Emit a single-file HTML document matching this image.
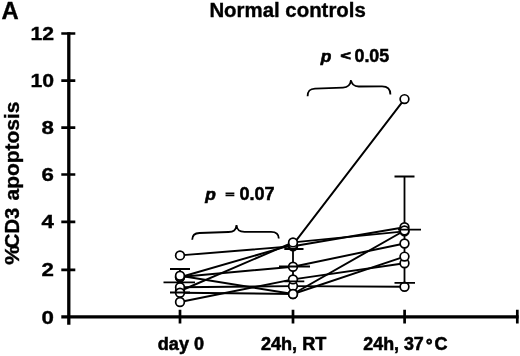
<!DOCTYPE html>
<html><head><meta charset="utf-8"><title>Normal controls</title>
<style>html,body{margin:0;padding:0;background:#fff}svg{display:block}</style>
</head><body>
<svg width="520" height="356" viewBox="0 0 520 356">
<rect width="520" height="356" fill="#fff"/>
<g font-family="'Liberation Sans', Arial, Helvetica, sans-serif" font-weight="bold" fill="#000" stroke="#000" stroke-width="0.35">
<text x="1.4" y="19.0" font-size="24.5" textLength="17.2" lengthAdjust="spacingAndGlyphs">A</text>
<text x="209.4" y="17" font-size="19.5" textLength="156.4" lengthAdjust="spacingAndGlyphs">Normal controls</text>
<g font-size="18" text-anchor="end">
<text x="54.0" y="39.8" textLength="23.6" lengthAdjust="spacingAndGlyphs">12</text>
<text x="54.0" y="86.6" textLength="23.6" lengthAdjust="spacingAndGlyphs">10</text>
<text x="54.0" y="133.8" textLength="12.4" lengthAdjust="spacingAndGlyphs">8</text>
<text x="54.0" y="181.2" textLength="12.4" lengthAdjust="spacingAndGlyphs">6</text>
<text x="54.0" y="228.4" textLength="12.4" lengthAdjust="spacingAndGlyphs">4</text>
<text x="54.0" y="276.2" textLength="12.4" lengthAdjust="spacingAndGlyphs">2</text>
<text x="54.0" y="324.0" textLength="12.4" lengthAdjust="spacingAndGlyphs">0</text>
</g>
<text transform="translate(18.6,0) rotate(-90)" font-size="20"><tspan x="-264.7" textLength="19.6" lengthAdjust="spacingAndGlyphs">%</tspan><tspan x="-248.2" textLength="40.6" lengthAdjust="spacingAndGlyphs">CD3</tspan> <tspan x="-200.4" textLength="98.7" lengthAdjust="spacingAndGlyphs">apoptosis</tspan></text>
<g font-size="17.5" stroke-width="0.55">
<text x="157.8" y="349.9" font-size="18" textLength="46.2" lengthAdjust="spacingAndGlyphs">day 0</text>
<text x="260.9" y="349.7" textLength="65.4" lengthAdjust="spacingAndGlyphs">24h, RT</text>
<text y="349.6"><tspan x="363.3" textLength="60.5" lengthAdjust="spacingAndGlyphs">24h, 37</tspan><tspan x="426.0" y="350.8" font-size="16" stroke-width="0.8">°</tspan><tspan x="434.6" y="349.6" textLength="13" lengthAdjust="spacingAndGlyphs">C</tspan></text>
</g>
<g font-size="17.5">
<text x="205.2" y="199.8" font-style="italic" font-size="17" textLength="10.6" lengthAdjust="spacingAndGlyphs" stroke-width="0.6">p</text>
<text transform="translate(225.7,196.9) scale(1,0.5)" font-size="15" textLength="8.4" lengthAdjust="spacingAndGlyphs" stroke-width="1.7">=</text>
<text x="239.4" y="200" textLength="35.1" lengthAdjust="spacingAndGlyphs" stroke-width="0.5">0.07</text>
<text x="320.8" y="62.3" font-style="italic" font-size="17" textLength="10.6" lengthAdjust="spacingAndGlyphs" stroke-width="0.6">p</text>
<text transform="translate(340.4,59.8) scale(1,0.8)" font-size="15" textLength="10.4" lengthAdjust="spacingAndGlyphs" stroke-width="0.9">&lt;</text>
<text x="354.5" y="62.3" textLength="34.7" lengthAdjust="spacingAndGlyphs" stroke-width="0.5">0.05</text>
</g>
</g>
<g stroke="#000" fill="none" stroke-linecap="butt">
<!-- axes -->
<path d="M68.8,32.2 V324.8" stroke-width="3.3"/>
<path d="M61.3,316.8 H518.6" stroke-width="3.3"/>
<g stroke-width="2.7">
<path d="M61.3,33.5 H75.3 M61.3,80.6 H75.3 M61.3,127.6 H75.3 M61.3,174.5 H75.3 M61.3,221.8 H75.3 M61.3,269.9 H75.3"/>
<path d="M180,309.8 V323.6 M293,309.8 V323.6 M404.6,309.8 V323.6 M517.3,309.8 V323.6"/>
</g>
<!-- braces -->
<g stroke-width="1.8">
<path d="M192.2,239.8 C192.2,235 194.5,233.2 199.5,233 L228.5,232 C233.5,231.8 236,230.5 236.5,225.2 C237,230.5 239.5,231.8 244.5,231.8 L271,231.8 C276,231.8 278.8,233.5 278.8,238.6"/>
<path d="M307.6,96.3 C307.6,90.5 310,88.8 315,88.6 L343,87.6 C348,87.4 350.4,85.5 351,80 C351.6,85 354,86.6 359,86.5 L382,86.3 C387.5,86.3 390.4,88.5 390.4,94.4"/>
</g>
<g stroke-width="1.95" stroke-linejoin="round">
<polyline points="180.0,255.4 293.0,246.2 404.5,227.2" />
<polyline points="180.0,277.3 293.0,244.6 404.5,99.1" />
<polyline points="180.0,291.0 293.0,242.4 404.5,231.4" />
<polyline points="180.0,277.0 293.0,266.7 404.5,243.5" />
<polyline points="180.0,275.8 293.0,294.0 404.5,230.5" />
<polyline points="180.0,287.2 293.0,286.1 404.5,286.8" />
<polyline points="180.0,302.0 293.0,279.4 404.5,263.3" />
<polyline points="180.0,292.7 293.0,294.0 404.5,256.6" />
</g>
<path d="M180,269 V293 M293,249 V281 M404.5,176.5 V283" stroke-width="1.8"/>
<g stroke-width="1.7" fill="#fff">
<circle cx="180.0" cy="255.4" r="4.35" />
<circle cx="293.0" cy="246.2" r="4.35" />
<circle cx="404.5" cy="227.2" r="4.35" />
<circle cx="180.0" cy="277.3" r="4.35" />
<circle cx="293.0" cy="244.6" r="4.35" />
<circle cx="404.5" cy="99.1" r="4.35" />
<circle cx="180.0" cy="291.0" r="4.35" />
<circle cx="293.0" cy="242.4" r="4.35" />
<circle cx="404.5" cy="231.4" r="4.35" />
<circle cx="180.0" cy="277.0" r="4.35" />
<circle cx="293.0" cy="266.7" r="4.35" />
<circle cx="404.5" cy="243.5" r="4.35" />
<circle cx="180.0" cy="275.8" r="4.35" />
<circle cx="293.0" cy="294.0" r="4.35" />
<circle cx="404.5" cy="230.5" r="4.35" />
<circle cx="180.0" cy="287.2" r="4.35" />
<circle cx="293.0" cy="286.1" r="4.35" />
<circle cx="404.5" cy="286.8" r="4.35" />
<circle cx="180.0" cy="302.0" r="4.35" />
<circle cx="293.0" cy="279.4" r="4.35" />
<circle cx="404.5" cy="263.3" r="4.35" />
<circle cx="180.0" cy="292.7" r="4.35" />
<circle cx="293.0" cy="294.0" r="4.35" />
<circle cx="404.5" cy="256.6" r="4.35" />
</g>
<!-- error bars -->
<g stroke-width="1.8">
<path d="M170,269 H190 M163.5,282.3 H195 M170,292.5 H190"/>
<path d="M284.3,249 H303.5 M279,266.5 H310 M284.3,281.3 H304.3"/>
<path d="M394.5,176.5 H414.5 M398,229.7 H421 M394.5,282.9 H415"/>
</g>
</g>
</svg>
</body></html>
